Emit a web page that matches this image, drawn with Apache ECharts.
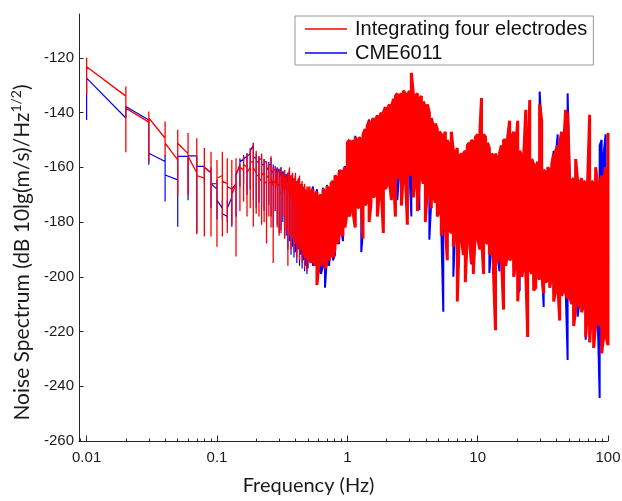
<!DOCTYPE html>
<html><head><meta charset="utf-8">
<script src="https://cdn.jsdelivr.net/npm/echarts@6/dist/echarts.min.js"></script>
<style>html,body{margin:0;padding:0;background:#fff}#c{width:622px;height:501px}</style>
</head><body><div id="c"></div>
<script>
const seriesNames = ['Integrating four electrodes', 'CME6011'];
const xTickValues = [0.01, 0.1, 1, 10, 100];
const xTickLabels = ['0.01', '0.1', '1', '10', '100'];
const xMinorTicks = [0.009, 0.02, 0.03, 0.04, 0.05, 0.06, 0.07, 0.08, 0.09, 0.2, 0.3, 0.4, 0.5, 0.6, 0.7, 0.8, 0.9, 2, 3, 4, 5, 6, 7, 8, 9, 20, 30, 40, 50, 60, 70, 80, 90];
const yTickValues = [-260, -240, -220, -200, -180, -160, -140, -120];

// low-frequency bins (Hz)
const lowFreq = [0.01,0.02,0.03,0.04,0.05,0.06,0.07,0.08,0.09,0.10,0.11,0.12,0.13,0.14,0.15,0.16,0.17,0.18,0.19,0.20,0.21,0.22,0.23,0.24,0.25,0.26,0.27,0.28,0.29,0.30,0.31,0.32,0.33,0.34,0.35,0.36,0.37,0.38,0.39,0.40,0.41,0.42,0.43,0.44,0.45,0.46,0.47,0.48,0.49,0.50];
const redLowIn  = [-123,-134,-143.5,-149.4,-157.3,-155,-162,-164,-162,-166,-163,-166,-168,-166,-160,-161,-160,-160,-158,-162,-163,-165,-162,-166,-164,-165,-167,-165,-168,-167,-169,-168,-170,-169,-171,-170,-172,-171,-173,-172,-174,-173,-175,-174,-176,-175,-177,-176,-178,-177];
const redLowHi  = [-120,-130.5,-139.6,-143.3,-146.3,-147.5,-149.4,-153,-154.3,-157.3,-154.3,-156.7,-157.3,-156.7,-159,-156,-155,-153,-151.2,-154,-156,-155,-157,-158,-159,-156,-160,-160,-161,-161,-160,-162,-161,-163,-162,-160,-163,-162,-164,-162,-165,-164,-163,-166,-165,-167,-166,-168,-167,-169];
const redLowLo  = [-133.5,-154.5,-158,-156,-170.5,-170,-184.5,-185.3,-185.3,-189,-185.3,-184,-181,-192.6,-176,-172.5,-178,-175,-181.7,-177,-178,-181,-180,-187.8,-178,-182,-195,-176,-182,-185,-184,-178,-186,-183,-196,-185,-190,-186,-191,-188,-193,-189,-194,-190,-195,-192,-197,-193,-198,-194];
const redLowOut = [-123.3,-138.4,-142,-151.2,-151.2,-156,-163,-160,-166,-164,-165,-167,-170,-162,-160,-159,-162,-158,-160,-163,-164,-163,-165,-163,-166,-164,-166,-168,-166,-170,-168,-170,-169,-172,-170,-172,-171,-173,-172,-174,-173,-175,-174,-176,-175,-177,-176,-178,-177,-179];
const blueLowIn  = [-127.4,-142,-142.7,-157.9,-164.6,-156,-155.8,-159.7,-162,-168,-175,-178,-171,-166,-159,-157,-156,-155,-152,-157,-158,-157,-159,-158,-161,-159,-162,-161,-163,-162,-164,-163,-165,-164,-166,-165,-167,-166,-168,-167,-169,-168,-170,-169,-171,-170,-172,-171,-173,-172];
const blueLowHi  = [-127.4,-137.8,-142,-155.5,-156,-155.5,-155.5,-159.7,-160,-164.6,-172,-172,-169.5,-162,-156.7,-155.5,-154.9,-153.5,-151,-155,-156,-155.5,-157,-157.5,-158,-156.5,-159,-159.5,-160,-160.5,-160,-161.5,-161,-162.5,-162,-161,-163,-162.5,-164,-163,-165,-164.5,-164,-166.5,-166,-167.5,-167,-168.5,-168,-169.5];
const blueLowLo  = [-142.7,-142,-159.1,-172.5,-181.7,-172,-184,-165.8,-175,-179,-179,-180,-181.7,-178,-167,-166,-170,-168,-172,-175,-173,-175,-176,-180,-174,-178,-182,-176,-181,-184,-183,-180,-186,-185,-190,-187,-192,-189,-193,-191,-195,-190,-196,-192,-197,-194,-198,-196,-199,-197];
const blueLowOut = [-127.4,-137.8,-154.9,-162.8,-156,-155.8,-159.7,-160,-166,-172,-177,-175,-168,-163,-158,-157,-156,-154,-156,-158,-157,-159,-158,-160,-159,-161,-161,-163,-162,-164,-163,-165,-164,-166,-165,-167,-166,-168,-167,-169,-168,-170,-169,-171,-170,-172,-171,-173,-172,-174];

// dense bins (Hz), 0.5 - 100 Hz
const denseFreq = [0.508,0.526,0.545,0.565,0.585,0.606,0.628,0.651,0.674,0.698,0.723,0.749,0.776,0.804,0.833,0.863,0.894,0.926,0.959,
1.00,1.04,1.07,1.11,1.15,1.19,1.23,1.28,1.32,1.37,1.42,1.47,1.52,1.58,1.64,1.70,1.76,1.82,1.89,1.96,2.03,2.10,2.18,2.26,2.34,2.42,2.51,2.60,2.69,2.79,2.89,2.99,3.10,3.21,3.33,3.45,3.57,3.70,3.83,3.97,4.11,4.26,4.41,4.57,4.73,4.90,5.08,5.26,5.45,5.65,5.85,6.06,6.28,6.51,6.74,6.98,7.23,7.49,7.76,8.04,8.33,8.63,8.94,9.26,9.59,
10.0,10.4,10.7,11.1,11.5,11.9,12.3,12.8,13.2,13.7,14.2,14.7,15.2,15.8,16.4,17.0,17.6,18.2,18.9,19.6,20.3,21.0,21.8,22.6,23.4,24.2,25.1,26.0,26.9,27.9,28.9,29.9,31.0,32.1,33.3,34.5,35.7,37.0,38.3,39.7,41.1,42.6,44.1,45.7,47.3,49.0,50.8,52.6,54.5,56.5,58.5,60.6,62.8,65.1,67.4,69.8,72.3,74.9,77.6,80.4,83.3,86.3,89.4,92.6,95.9,100];
const redDenseHi = [
-167,-169,-168,-170,-169,-171,-170,-168,-169,-167,
-168,-166,-165,-163,-164,-162,-161,-162,-160,-151,
-150,-152,-150,-149,-151,-149,-150,-148,-146,-145,
-143,-144,-142,-143,-141,-142,-140,-140,-138,-139,
-137,-138,-135,-134,-133,-134,-133,-132,-133,-134,
-132,-125.5,-133,-134,-133,-135,-134,-136,-138,-137,
-140,-142,-145,-144,-146,-147,-148,-149,-147,-150,
-152,-147,-154,-155,-153,-156,-155,-155,-154,-152,
-151,-150,-151,-149,-148,-147,-134.7,-148,-149,-151,
-153,-155,-156,-155,-157,-155,-152,-150,-150,-149,
-143,-149,-147,-152,-143,-154,-156,-155,-139,-158,
-135.4,-157,-159,-160,-158,-137,-143,-161,-162,-160,
-161,-159,-155,-154,-152,-151,-147,-152,-139,-140,
-165,-165,-164,-157,-165,-166,-164,-165,-166,-165,
-140.8,-165,-166,-160,-166,-166,-163,-165,-160,-147.5];
const redDenseLo = [
-192,-195,-193,-196,-203,-195,-196,-194,-197,-195,
-194,-191,-193,-190,-188,-186,-184,-185,-182,-176,
-178,-174,-177,-182,-174,-175,-173,-186,-174,-172,
-180,-173,-171,-170,-178,-169,-168,-184,-168,-166,
-165,-172,-164,-178,-164,-163,-174,-162,-163,-181,
-162,-163,-171,-164,-176,-165,-163,-166,-180,-168,
-167,-175,-170,-173,-178,-176,-185,-180,-182,-194,
-183,-184,-189,-183,-209,-184,-185,-192,-202,-185,
-184,-195,-199,-184,-186,-190,-185,-199,-187,-188,
-192,-190,-197,-219.5,-195,-190,-192,-212,-196,-191,
-194,-193,-200,-195,-209,-195,-200,-196,-198,-222,
-197,-199,-205,-204,-200,-201,-199,-206,-202,-201,
-204,-200,-209,-205,-202,-216,-207,-204,-206,-208,
-207,-210,-218,-212,-209,-211,-213,-210,-222,-212,
-224,-213,-226,-218,-216,-218,-228,-222,-221,-225];
const blueDenseHi = [
-169,-170,-167,-172,-168,-173,-172,-167.5,-171,-166.5,
-170,-168,-167,-165,-166,-161,-163,-164,-159.5,-153,
-152,-154,-152,-148.5,-153,-151,-152,-150,-148,-147,
-142.5,-146,-144,-145,-143,-144,-142,-142,-140,-141,
-139,-140,-137,-136,-135,-136,-135,-134,-135,-136,
-134,-130,-135,-136,-135,-137,-136,-138,-140,-139,
-142,-144,-147,-146,-148,-149,-150,-151,-149,-152,
-154,-150,-156,-157,-155,-158,-157,-157,-156,-154,
-153,-152,-153,-151,-150,-149,-138,-150,-151,-153,
-155,-157,-158,-157,-159,-157,-154,-152,-152,-151,
-146,-151,-149,-154,-146,-156,-158,-157,-143,-160,
-138,-159,-161,-162,-160,-132.3,-146,-163,-164,-162,
-163,-161,-154,-156,-148,-153,-149,-154,-141,-133,
-164,-167,-166,-160,-167,-168,-166,-167,-168,-167,
-144,-167,-168,-163,-168,-152,-150,-155,-148,-150];
const blueDenseLo = [
-194,-193,-196,-194,-200,-198,-199,-196,-204,-193,
-196,-189,-194,-192,-186,-188,-182,-187,-180,-174,
-176,-172,-175,-180,-172,-173,-191,-183,-172,-170,
-177,-171,-169,-168,-175,-167,-166,-181,-166,-164,
-163,-170,-162,-175,-172,-161,-171,-160,-161,-178,
-160,-178,-168,-162,-173,-175.6,-161,-164,-177,-166,
-186.5,-172,-168,-171,-175,-174,-182,-212.8,-180,-191,
-181,-182,-200,-181,-205,-182,-183,-190,-199,-183,
-182,-195.5,-196,-182,-184,-188,-183,-196,-185,-186,
-198.6,-188,-194,-215,-192,-198,-190,-209,-194,-189,
-192,-191,-197,-193,-206,-205,-198,-194,-196,-218,
-195,-197,-202,-202,-198,-199,-197,-211,-200,-199,
-202,-198,-206,-203,-200,-213,-205,-202,-204,-230.4,
-205,-208,-215,-210,-214.6,-209,-211,-208,-223,-210,
-221,-211,-223,-216,-214,-244.3,-225,-220,-219,-222];

function lowPath(f, a, h, l, b) {
  const pts = [];
  for (let i = 0; i < f.length; i++) {
    pts.push([f[i], a[i]], [f[i], h[i]], [f[i], l[i]], [f[i], b[i]]);
  }
  return pts;
}
function densePath(f, h, l) {
  const pts = [];
  for (let i = 0; i < f.length; i++) {
    if (i % 2 === 0) pts.push([f[i], h[i]], [f[i], l[i]]);
    else pts.push([f[i], l[i]], [f[i], h[i]]);
  }
  return pts;
}

const RED = '#ff0000', BLUE = '#0000ff', AX = '#262626';
const chart = echarts.init(document.getElementById('c'), null, {renderer: 'canvas'});
const xCommon = {type: 'log', logBase: 10, min: 0.00874, max: 100, position: 'bottom', splitLine: {show: false}};
chart.setOption({
  animation: false,
  backgroundColor: '#fff',
  grid: {left: 79, right: 14, top: 14, bottom: 60, containLabel: false, outerBoundsMode: 'none'},
  legend: {
    data: seriesNames, orient: 'vertical', left: 295, top: 16, padding: [3, 6, 2, 10],
    itemGap: 4, itemWidth: 42, itemHeight: 1.5, icon: 'rect', selectedMode: false,
    backgroundColor: '#fff', borderColor: '#9a9a9a', borderWidth: 1, borderRadius: 0,
    textStyle: {fontFamily: 'Liberation Sans', fontSize: 20, color: '#111', lineHeight: 20, padding: [0, 0, 0, 3]}
  },
  xAxis: [
    Object.assign({}, xCommon, {
      axisLine: {show: true, lineStyle: {color: AX, width: 1}},
      axisTick: {show: true, inside: true, length: 5.5, customValues: xTickValues, lineStyle: {color: AX}},
      axisLabel: {show: true, customValues: xTickValues, margin: 9, fontFamily: 'Liberation Sans', fontSize: 15, color: '#1a1a1a',
        formatter: function (v) {
          for (let i = 0; i < xTickValues.length; i++) {
            if (Math.abs(Math.log10(v) - Math.log10(xTickValues[i])) < 1e-6) return xTickLabels[i];
          }
          return '';
        }},
      name: 'Frequency (Hz)', nameLocation: 'middle', nameGap: 35,
      nameTextStyle: {fontFamily: 'Lato', fontSize: 20, color: '#1a1a1a', padding: [0, 70, 0, 0]}
    }),
    Object.assign({}, xCommon, {
      axisLine: {show: false},
      axisTick: {show: true, inside: true, length: 2.5, customValues: xMinorTicks, lineStyle: {color: AX}},
      axisLabel: {show: false}
    })
  ],
  yAxis: {
    type: 'value', min: -260, max: -104,
    axisLine: {show: true, lineStyle: {color: AX, width: 1}},
    axisTick: {show: true, inside: true, length: 4.5, customValues: yTickValues, lineStyle: {color: AX}},
    axisLabel: {show: true, customValues: yTickValues, margin: 5, fontFamily: 'Liberation Sans', fontSize: 15, color: '#1a1a1a'},
    splitLine: {show: false},
    name: '{a|Noise Spectrum (dB 10lg(m/s)/Hz}{s|1/2}{a|)}',
    nameLocation: 'middle', nameGap: 37, nameRotate: 90,
    nameTextStyle: {
      padding: [0, 50, 0, 0],
      rich: {
        a: {fontFamily: 'Lato', fontSize: 21, color: '#1a1a1a', lineHeight: 26},
        s: {fontFamily: 'Lato', fontSize: 14, color: '#1a1a1a', lineHeight: 26, verticalAlign: 'top', padding: [0, 0, 8, 0]}
      }
    }
  },
  series: [
    {name: seriesNames[1], type: 'line', color: BLUE, xAxisIndex: 0, symbol: 'none', data: lowPath(lowFreq, blueLowIn, blueLowHi, blueLowLo, blueLowOut), lineStyle: {color: BLUE, width: 1.2}, silent: true},
    {name: seriesNames[1], type: 'line', color: BLUE, xAxisIndex: 0, symbol: 'none', data: densePath(denseFreq, blueDenseHi, blueDenseLo), lineStyle: {color: BLUE, width: 2}, silent: true},
    {name: seriesNames[0], type: 'line', color: RED, xAxisIndex: 0, symbol: 'none', data: lowPath(lowFreq, redLowIn, redLowHi, redLowLo, redLowOut), lineStyle: {color: RED, width: 1.3}, silent: true},
    {name: seriesNames[0], type: 'line', color: RED, xAxisIndex: 0, symbol: 'none', data: densePath(denseFreq, redDenseHi, redDenseLo), lineStyle: {color: RED, width: 3}, silent: true}
  ]
});
</script></body></html>
